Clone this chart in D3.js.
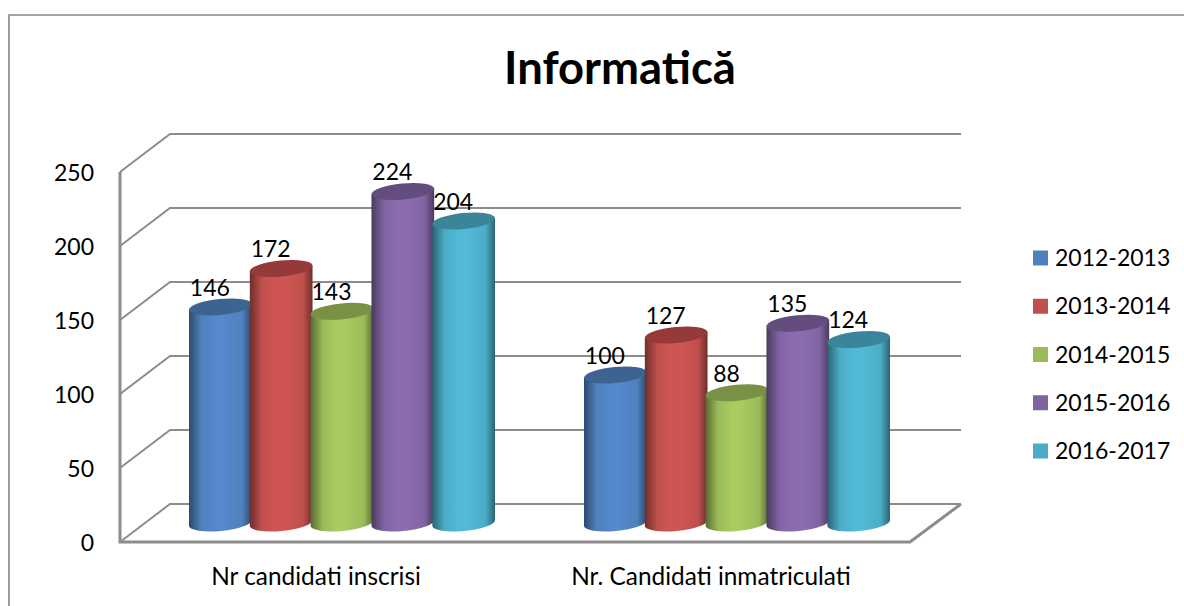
<!DOCTYPE html>
<html><head><meta charset="utf-8">
<script src="https://cdn.jsdelivr.net/npm/d3@7/dist/d3.min.js"></script>
<style>html,body{margin:0;padding:0;background:#fff}svg{display:block}text{font-family:Lato,"Open Sans",sans-serif;fill:#000}</style>
</head><body><svg id="c" width="1184" height="606"></svg>
<script>
const title = "Informatică";
const categories = ["Nr candidati inscrisi", "Nr. Candidati inmatriculati"];
const seriesNames = ["2012-2013","2013-2014","2014-2015","2015-2016","2016-2017"];
const v1213 = [146,100];
const v1314 = [172,127];
const v1415 = [143,88];
const v1516 = [224,135];
const v1617 = [204,124];
const seriesValues = [v1213,v1314,v1415,v1516,v1617];
const yTicks = [0,50,100,150,200,250];
const colors = ["#4f81bd","#c0504d","#9bbb59","#8064a2","#4bacc6"];
const light = ["#5588cc","#cf5552","#a8cc60","#8b6daf","#51bbd7"];
const dark = ["#2c4a6e","#6f2e2c","#5a6d33","#4a3a5e","#2b6373"];
const topC = ["#3d6490","#953a38","#789145","#634d7e","#3a8599"];

const svg = d3.select("#c");
const dx = 50, dy = 38;
const y = d3.scaleLinear().domain([0,250]).range([542,172]);
const x0 = d3.scaleBand().domain(categories).range([145,935]).paddingInner(0.23).paddingOuter(0.115);
const x1 = d3.scaleBand().domain(seriesNames).range([0,x0.bandwidth()]);

const defs = svg.append("defs");
colors.forEach((c,i)=>{
  const g = defs.append("linearGradient").attr("id","g"+i);
  [[0,dark[i]],[0.2,colors[i]],[0.42,light[i]],[0.55,light[i]],[0.85,colors[i]],[1,dark[i]]].forEach(s=>g.append("stop").attr("offset",s[0]).attr("stop-color",s[1]));
});
const blur = defs.append("filter").attr("id","soft").attr("x","-5%").attr("y","-5%").attr("width","110%").attr("height","110%");
blur.append("feGaussianBlur").attr("stdDeviation",0.45);

// outer frame
svg.append("path").attr("d","M9,606V15H1184").attr("fill","none").attr("stroke","#868686").attr("stroke-width",1.6);

// walls
const wall = svg.append("g").attr("fill","none").attr("stroke","#8c8c8c").attr("stroke-width",2).attr("filter","url(#soft)");
yTicks.forEach(t=>{
  const yy = y(t);
  wall.append("path").attr("d",`M120,${yy}L170,${yy-dy}L961,${yy-dy}`);
});
wall.append("path").attr("d",`M120,${y(250)}V${y(0)}H910L961,${y(0)-dy}`).attr("stroke-width",3);

// title
svg.append("text").attr("x",620).attr("y",84).attr("text-anchor","middle").attr("font-size",45.4).attr("font-weight",700).text(title);

// y axis labels
const yAxis = d3.axisLeft(y).tickValues(yTicks).tickSize(0).tickPadding(0);
const ag = svg.append("g").attr("transform","translate(94,1)").call(yAxis);
ag.select(".domain").remove();
ag.selectAll("text").attr("font-size",23).style("font-family",'Lato,sans-serif').attr("fill","#000");

// cylinders
const tilt = 5.5, rx = 31.5, ry = 8;
const tr = tilt*Math.PI/180;
const ex = rx*Math.cos(tr), ey = rx*Math.sin(tr);
categories.forEach((cat,ci)=>{
  seriesNames.forEach((s,si)=>{
    const v = seriesValues[si][ci];
    const cx = x0(cat)+x1(s)+x1.bandwidth()/2-0.5;
    const base = y(0)-dy/2, top = y(v)-dy/2;
    const g = svg.append("g");
    g.append("path").attr("fill",`url(#g${si})`)
      .attr("d",`M${cx-ex},${top+ey}L${cx-ex},${base+ey}A${rx},${ry} ${-tilt} 0 0 ${cx+ex},${base-ey}L${cx+ex},${top-ey}Z`);
    g.append("ellipse").attr("cx",cx).attr("cy",top).attr("rx",rx).attr("ry",ry)
      .attr("transform",`rotate(${-tilt} ${cx} ${top})`).attr("fill",topC[si]);
    svg.append("text").attr("class","lab").attr("x",cx-10.5).attr("y",top-11).attr("text-anchor","middle").attr("font-size",23).text(v);
  });
});
svg.selectAll(".lab").raise();

// category labels
categories.forEach(cat=>{
  svg.append("text").attr("x",x0(cat)+x0.bandwidth()/2-26.5).attr("y",585).attr("text-anchor","middle").attr("font-size",24.4).text(cat);
});

// legend
const ly = d3.scalePoint().domain(seriesNames).range([258,451]);
seriesNames.forEach((s,i)=>{
  svg.append("rect").attr("x",1033).attr("y",ly(s)-7.5).attr("width",15).attr("height",15).attr("fill",colors[i]);
  svg.append("text").attr("x",1055).attr("y",ly(s)+8).attr("font-size",23).text(s);
});
</script></body></html>
